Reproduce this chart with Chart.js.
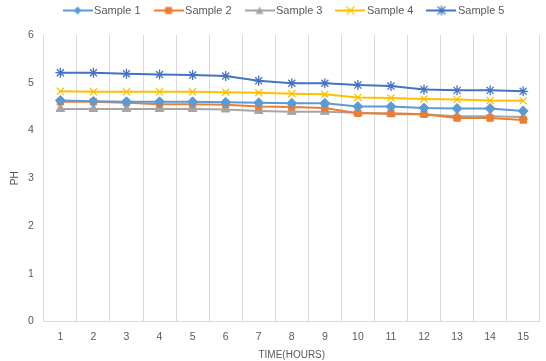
<!DOCTYPE html>
<html><head><meta charset="utf-8">
<script src="https://cdn.jsdelivr.net/npm/chart.js@4"></script>
<style>html,body{margin:0;padding:0;background:#fff}#wrap{width:546px;height:361px}</style>
</head><body><div id="wrap"><canvas id="c" width="546" height="361"></canvas></div>
<script>
const hours = ['1','2','3','4','5','6','7','8','9','10','11','12','13','14','15'];
const sample1 = [4.63,4.61,4.60,4.60,4.60,4.59,4.58,4.57,4.57,4.50,4.50,4.47,4.46,4.46,4.41];
const sample2 = [4.60,4.60,4.58,4.55,4.55,4.54,4.50,4.49,4.47,4.36,4.36,4.34,4.26,4.26,4.22];
const sample3 = [4.45,4.45,4.45,4.45,4.45,4.44,4.41,4.39,4.39,4.37,4.34,4.34,4.30,4.30,4.28];
const sample4 = [4.82,4.81,4.81,4.81,4.81,4.80,4.79,4.77,4.76,4.69,4.68,4.66,4.65,4.63,4.62];
const sample5 = [5.21,5.21,5.19,5.17,5.16,5.14,5.04,4.99,4.99,4.95,4.93,4.86,4.84,4.84,4.82];
const names = ['Sample 1','Sample 2','Sample 3','Sample 4','Sample 5'];
const colors = ['#5B9BD5','#ED7D31','#A5A5A5','#FFC000','#4472C4'];
const styles = ['rectRot','rect','triangle','crossRot','star'];
const series = [sample1,sample2,sample3,sample4,sample5];

function legendIcon(i){
  const cv=document.createElement('canvas'); cv.width=30; cv.height=12;
  const g=cv.getContext('2d');
  g.strokeStyle=colors[i]; g.lineWidth=2;
  g.beginPath(); g.moveTo(0,6); g.lineTo(30,6); g.stroke();
  g.fillStyle=colors[i]; g.lineWidth=1.2;
  const cx=15, cy=6, r=4;
  g.beginPath();
  if(styles[i]==='rectRot'){g.moveTo(cx,cy-r);g.lineTo(cx+r,cy);g.lineTo(cx,cy+r);g.lineTo(cx-r,cy);g.closePath();g.fill();}
  else if(styles[i]==='rect'){g.fillRect(cx-3.5,cy-3.5,7,7);}
  else if(styles[i]==='triangle'){g.moveTo(cx,cy-r);g.lineTo(cx+r,cy+3.5);g.lineTo(cx-r,cy+3.5);g.closePath();g.fill();}
  else if(styles[i]==='crossRot'){g.moveTo(cx-r,cy-r);g.lineTo(cx+r,cy+r);g.moveTo(cx+r,cy-r);g.lineTo(cx-r,cy+r);g.stroke();}
  else {g.moveTo(cx-r,cy-r);g.lineTo(cx+r,cy+r);g.moveTo(cx+r,cy-r);g.lineTo(cx-r,cy+r);g.moveTo(cx,cy-r-1);g.lineTo(cx,cy+r+1);g.stroke();}
  return cv;
}
const icons = names.map((n,i)=>legendIcon(i));

const legendTweak = {
  id:'legendTweak',
  beforeInit(chart){
    const lg = chart.legend;
    if(lg && !lg._tw){ const f = lg.fit; lg.fit = function(){ f.call(this); this.height += 9; }; lg._tw = true; }
  },
  afterLayout(chart){
    const lg = chart.legend; if(lg){ lg.left += 8; lg.right += 8; }
  }
};

new Chart(document.getElementById('c'),{
  type:'line',
  data:{labels:hours,datasets:series.map((d,i)=>({
    label:names[i],data:d,borderColor:colors[i],backgroundColor:colors[i],
    borderWidth:2,pointStyle:styles[i],pointRadius:styles[i]==='rect'?4.5:5,
    pointBorderWidth:styles[i]==='crossRot'||styles[i]==='star'?1.3:1,
    pointBackgroundColor:colors[i],pointBorderColor:colors[i],tension:0,fill:false
  }))},
  plugins:[legendTweak],
  options:{
    responsive:false,animation:false,
    layout:{padding:{left:9,right:0,top:-12,bottom:0}},
    plugins:{
      legend:{position:'top',labels:{
        color:'#595959',font:{family:'Liberation Sans',size:11},
        usePointStyle:true,pointStyleWidth:22,boxHeight:12,padding:17,
        generateLabels:(chart)=>chart.data.datasets.map((ds,i)=>({
          text:ds.label,pointStyle:icons[i],fillStyle:colors[i],strokeStyle:colors[i],
          lineWidth:0,datasetIndex:i,fontColor:'#595959',hidden:false}))
      }},
      tooltip:{enabled:false}
    },
    scales:{
      x:{offset:true,
        grid:{offset:true,color:'#d9d9d9',drawTicks:false},
        border:{color:'#d9d9d9'},
        ticks:{color:'#595959',font:{family:'Liberation Sans',size:10.5},padding:9},
        title:{display:true,text:'TIME(HOURS)',color:'#595959',font:{family:'Liberation Sans',size:10},padding:{top:-3,bottom:0}}
      },
      y:{min:0,max:6,
        grid:{display:false},
        border:{display:false},
        ticks:{stepSize:1,color:'#595959',font:{family:'Liberation Sans',size:10.5},padding:2},
        title:{display:true,text:'PH',color:'#595959',font:{family:'Liberation Sans',size:10},padding:{top:0,bottom:5}}
      }
    }
  }
});
</script></body></html>
